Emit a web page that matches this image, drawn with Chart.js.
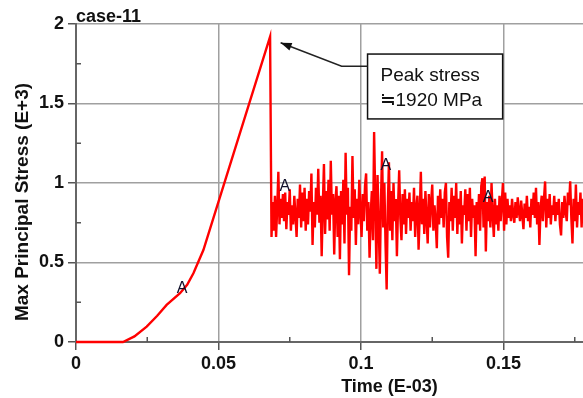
<!DOCTYPE html>
<html>
<head>
<meta charset="utf-8">
<script src="https://cdn.jsdelivr.net/npm/chart.js@4.4.0/dist/chart.umd.min.js"></script>
<style>
  html, body { margin: 0; padding: 0; background: #fff; overflow: hidden; }
  canvas { display: block; }
</style>
</head>
<body>
<canvas id="chart" width="710" height="398"></canvas>
<script>
// loading ramp up to the peak, then the drop
const riseTime = [0, 0.004, 0.008, 0.012, 0.0165, 0.0205, 0.0248, 0.0285, 0.0318, 0.0365, 0.0390, 0.0412, 0.0447, 0.0681, 0.0686];
const riseStress = [0, 0, 0, 0, 0, 0.035, 0.097, 0.165, 0.233, 0.307, 0.36, 0.432, 0.578, 1.92, 0.66];

// oscillation after the peak
const oscTime = [
  0.0690, 0.0694, 0.0698, 0.0702, 0.0706, 0.0710, 0.0714, 0.0718, 0.0722, 0.0726,
  0.0730, 0.0734, 0.0738, 0.0742, 0.0746, 0.0750, 0.0754, 0.0758, 0.0762, 0.0766,
  0.0770, 0.0774, 0.0778, 0.0782, 0.0786, 0.0790, 0.0794, 0.0798, 0.0802, 0.0806,
  0.0810, 0.0814, 0.0818, 0.0822, 0.0826, 0.0830, 0.0834, 0.0838, 0.0842, 0.0846,
  0.0850, 0.0854, 0.0858, 0.0862, 0.0866, 0.0870, 0.0874, 0.0878, 0.0882, 0.0886,
  0.0890, 0.0894, 0.0898, 0.0902, 0.0906, 0.0910, 0.0914, 0.0918, 0.0922, 0.0926,
  0.0930, 0.0934, 0.0938, 0.0942, 0.0946, 0.0950, 0.0954, 0.0958, 0.0962, 0.0966,
  0.0970, 0.0974, 0.0978, 0.0982, 0.0986, 0.0990, 0.0994, 0.0998, 0.1002, 0.1006,
  0.1010, 0.1014, 0.1018, 0.1022, 0.1026, 0.1030, 0.1034, 0.1038, 0.1042, 0.1046,
  0.1050, 0.1054, 0.1058, 0.1062, 0.1066, 0.1070, 0.1074, 0.1078, 0.1082, 0.1086,
  0.1090, 0.1094, 0.1098, 0.1102, 0.1106, 0.1110, 0.1114, 0.1118, 0.1122, 0.1126,
  0.1130, 0.1134, 0.1138, 0.1142, 0.1146, 0.1150, 0.1154, 0.1158, 0.1162, 0.1166,
  0.1170, 0.1174, 0.1178, 0.1182, 0.1186, 0.1190, 0.1194, 0.1198, 0.1202, 0.1206,
  0.1210, 0.1214, 0.1218, 0.1222, 0.1226, 0.1230, 0.1234, 0.1238, 0.1242, 0.1246,
  0.1250, 0.1254, 0.1258, 0.1262, 0.1266, 0.1270, 0.1274, 0.1278, 0.1282, 0.1286,
  0.1290, 0.1294, 0.1298, 0.1302, 0.1306, 0.1310, 0.1314, 0.1318, 0.1322, 0.1326,
  0.1330, 0.1334, 0.1338, 0.1342, 0.1346, 0.1350, 0.1354, 0.1358, 0.1362, 0.1366,
  0.1370, 0.1374, 0.1378, 0.1382, 0.1386, 0.1390, 0.1394, 0.1398, 0.1402, 0.1406,
  0.1410, 0.1414, 0.1418, 0.1422, 0.1426, 0.1430, 0.1434, 0.1438, 0.1442, 0.1446,
  0.1450, 0.1454, 0.1458, 0.1462, 0.1466, 0.1470, 0.1474, 0.1478, 0.1482, 0.1486,
  0.1490, 0.1494, 0.1498, 0.1502, 0.1506, 0.1510, 0.1514, 0.1518, 0.1522, 0.1526,
  0.1530, 0.1534, 0.1538, 0.1542, 0.1546, 0.1550, 0.1554, 0.1558, 0.1562, 0.1566,
  0.1570, 0.1574, 0.1578, 0.1582, 0.1586, 0.1590, 0.1594, 0.1598, 0.1602, 0.1606,
  0.1610, 0.1614, 0.1618, 0.1622, 0.1626, 0.1630, 0.1634, 0.1638, 0.1642, 0.1646,
  0.1650, 0.1654, 0.1658, 0.1662, 0.1666, 0.1670, 0.1674, 0.1678, 0.1682, 0.1686,
  0.1690, 0.1694, 0.1698, 0.1702, 0.1706, 0.1710, 0.1714, 0.1718, 0.1722, 0.1726,
  0.1730, 0.1734, 0.1738, 0.1742, 0.1746, 0.1750, 0.1754, 0.1758, 0.1762, 0.1766,
  0.1770, 0.1774, 0.1778, 0.1782, 0.1786, 0.1790
];
const oscStress = [
  0.88, 0.70, 0.92, 0.66, 0.84, 1.07, 0.74, 0.90, 0.78, 0.93,
  0.76, 0.94, 0.71, 0.88, 0.80, 0.96, 0.70, 0.86, 0.74, 0.92,
  0.80, 0.66, 0.90, 0.78, 0.99, 0.72, 0.94, 0.76, 0.97, 0.70,
  0.90, 0.74, 0.95, 0.82, 1.06, 0.61, 0.88, 0.72, 0.97, 0.80,
  1.09, 0.75, 0.92, 0.54, 0.86, 1.12, 0.68, 0.95, 0.77, 1.02,
  0.70, 1.14, 0.80, 0.93, 0.55, 0.88, 0.98, 0.66, 0.92, 0.52,
  0.95, 0.74, 1.02, 0.62, 1.19, 0.80, 0.97, 0.42, 0.85, 0.70,
  1.17, 0.78, 0.96, 0.61, 0.90, 0.74, 1.02, 0.82, 0.66, 0.93,
  0.76, 0.98, 1.06, 0.70, 0.88, 0.53, 0.80, 0.95, 0.64, 1.32,
  0.90, 0.46, 1.05, 0.75, 0.43, 0.88, 1.20, 0.72, 1.00, 0.62,
  0.33, 0.85, 1.13, 0.70, 0.95, 0.64, 1.00, 0.76, 0.90, 0.54,
  0.86, 1.08, 0.78, 0.64, 0.93, 0.74, 0.96, 0.68, 0.90, 0.78,
  0.94, 0.70, 0.88, 0.76, 0.97, 0.66, 0.84, 0.92, 0.58, 0.80,
  1.07, 0.74, 0.90, 0.68, 0.95, 0.78, 0.62, 0.93, 0.72, 0.88,
  0.99, 0.70, 0.86, 0.76, 0.59, 0.92, 0.74, 0.96, 0.78, 0.90,
  0.72, 0.94, 1.00, 0.66, 0.53, 0.88, 0.76, 0.97, 0.70, 0.92,
  0.78, 1.00, 0.68, 0.90, 0.74, 0.95, 0.62, 0.86, 0.80, 0.96,
  0.70, 0.93, 0.76, 0.97, 0.66, 0.90, 0.78, 0.86, 0.54, 0.88,
  0.74, 0.93, 0.70, 0.98, 1.03, 0.72, 1.04, 0.57, 0.88, 0.76,
  0.92, 0.72, 1.00, 0.80, 0.66, 0.90, 0.74, 0.86, 0.70, 0.92,
  0.76, 0.88, 1.00, 0.70, 0.94, 0.74, 0.90, 0.78, 0.86, 0.76,
  0.90, 0.80, 0.75, 0.88, 0.78, 0.91, 0.82, 0.76, 0.89, 0.80,
  0.71, 0.87, 0.78, 0.92, 0.76, 0.85, 0.72, 0.90, 0.80, 0.94,
  0.78, 0.97, 0.74, 0.88, 0.61, 0.84, 0.92, 0.76, 0.90, 1.01,
  0.72, 0.90, 0.78, 0.93, 0.74, 0.86, 0.80, 0.92, 0.76, 0.88,
  0.80, 0.90, 0.74, 0.67, 0.88, 0.78, 0.92, 0.82, 0.76, 0.94,
  0.86, 1.01, 0.78, 0.62, 0.90, 0.76, 0.99, 0.72, 0.88, 0.80,
  0.94, 0.72, 0.90, 0.78, 0.86, 0.80
];

// "A" curve markers
const markerTime = [0.0372, 0.0733, 0.1087, 0.1446];
const markerStress = [0.334, 0.977, 1.11, 0.91];

// minor tick positions
const xMinorTicks = [0.025, 0.075, 0.125, 0.175, 0.225];
const yMinorTicks = [0.25, 0.75, 1.25, 1.75];

const chartTitle = 'case-11';
const xTitle = 'Time (E-03)';
const yTitle = 'Max Principal Stress (E+3)';
const noteLines = ['Peak stress', '\u22521920 MPa'];

// annotation geometry in data units
const noteBox = { t0: 0.1023, t1: 0.1497, v0: 1.403, v1: 1.811 };
const noteArrow = { tipT: 0.0718, tipV: 1.882, elbowT: 0.0932, elbowV: 1.735 };

const family = '"Liberation Sans", Arial, sans-serif';

const time = riseTime.concat(oscTime);
const stress = riseStress.concat(oscStress);
const points = time.map((t, i) => ({ x: t, y: stress[i] }));

const decor = {
  id: 'decor',
  afterDraw(chart) {
    const { ctx, chartArea: a, scales: { x, y } } = chart;
    ctx.save();

    // minor ticks, pointing inward
    ctx.strokeStyle = '#555';
    ctx.lineWidth = 1.5;
    ctx.beginPath();
    xMinorTicks.forEach(v => {
      const px = x.getPixelForValue(v);
      ctx.moveTo(px, a.bottom);
      ctx.lineTo(px, a.bottom - 5);
    });
    yMinorTicks.forEach(v => {
      const py = y.getPixelForValue(v);
      ctx.moveTo(a.left, py);
      ctx.lineTo(a.left + 5, py);
    });
    ctx.stroke();

    // A markers
    ctx.fillStyle = '#10102a';
    ctx.font = '16px ' + family;
    ctx.textAlign = 'center';
    ctx.textBaseline = 'middle';
    markerTime.forEach((t, i) => {
      ctx.fillText('A', x.getPixelForValue(t), y.getPixelForValue(markerStress[i]));
    });

    // title
    ctx.fillStyle = '#111';
    ctx.font = 'bold 18px ' + family;
    ctx.textAlign = 'left';
    ctx.textBaseline = 'alphabetic';
    ctx.fillText(chartTitle, a.left, a.top - 2);

    // y title
    ctx.save();
    ctx.translate(a.left - 53, a.top + 178);
    ctx.rotate(-Math.PI / 2);
    ctx.textAlign = 'center';
    ctx.textBaseline = 'middle';
    ctx.font = 'bold 19px ' + family;
    ctx.fillText(yTitle, 0, 0);
    ctx.restore();

    // annotation box
    const bx0 = x.getPixelForValue(noteBox.t0), bx1 = x.getPixelForValue(noteBox.t1);
    const by0 = y.getPixelForValue(noteBox.v1), by1 = y.getPixelForValue(noteBox.v0);
    ctx.fillStyle = '#fff';
    ctx.fillRect(bx0, by0, bx1 - bx0, by1 - by0);
    ctx.strokeStyle = '#111';
    ctx.lineWidth = 1.5;
    ctx.strokeRect(bx0, by0, bx1 - bx0, by1 - by0);
    ctx.fillStyle = '#111';
    ctx.font = '19px ' + family;
    ctx.textAlign = 'left';
    ctx.fillText(noteLines[0], bx0 + 13, by0 + 27);
    ctx.fillText(noteLines[1], bx0 + 12, by0 + 52);

    // arrow
    const ex = x.getPixelForValue(noteArrow.elbowT), ey = y.getPixelForValue(noteArrow.elbowV);
    const tx = x.getPixelForValue(noteArrow.tipT), ty = y.getPixelForValue(noteArrow.tipV);
    ctx.strokeStyle = '#222';
    ctx.lineWidth = 1.5;
    ctx.beginPath();
    ctx.moveTo(bx0, ey);
    ctx.lineTo(ex, ey);
    ctx.lineTo(tx, ty);
    ctx.stroke();
    const ang = Math.atan2(ty - ey, tx - ex);
    ctx.fillStyle = '#111';
    ctx.beginPath();
    ctx.moveTo(tx, ty);
    ctx.lineTo(tx - 11 * Math.cos(ang) + 4 * Math.sin(ang), ty - 11 * Math.sin(ang) - 4 * Math.cos(ang));
    ctx.lineTo(tx - 11 * Math.cos(ang) - 4 * Math.sin(ang), ty - 11 * Math.sin(ang) + 4 * Math.cos(ang));
    ctx.closePath();
    ctx.fill();

    ctx.restore();
  }
};

const tickFont = { family: family, size: 18, weight: 'bold' };

let ctx = document.getElementById('chart').getContext('2d');
let myChart = new Chart(ctx, {
  type: 'line',
  data: {
    datasets: [{
      data: points,
      borderColor: '#ff0000',
      borderWidth: 2.4,
      pointRadius: 0,
      tension: 0,
      fill: false,
      clip: false
    }]
  },
  options: {
    responsive: false,
    animation: false,
    layout: { padding: { top: 24, right: 7, left: 0, bottom: 0 } },
    plugins: { legend: { display: false }, tooltip: { enabled: false } },
    scales: {
      x: {
        type: 'linear',
        min: 0,
        max: 0.22,
        ticks: {
          stepSize: 0.05,
          includeBounds: false,
          maxRotation: 0,
          autoSkip: false,
          padding: 3,
          color: '#111',
          font: tickFont,
          callback: v => String(+v.toFixed(3))
        },
        grid: { color: '#a0a0a0', lineWidth: 1.5, tickLength: 8, tickColor: '#555', tickWidth: 1.5 },
        border: { color: '#666', width: 2 },
        title: { display: true, text: xTitle, color: '#111', font: tickFont, padding: 0 },
        afterFit: s => { s.height = 56; }
      },
      y: {
        min: 0,
        max: 2,
        ticks: {
          stepSize: 0.5,
          padding: 4,
          color: '#111',
          font: tickFont,
          callback: v => String(+v.toFixed(2))
        },
        grid: { color: '#a0a0a0', lineWidth: 1.5, tickLength: 8, tickColor: '#555', tickWidth: 1.5 },
        border: { color: '#666', width: 2 },
        afterFit: s => { s.width = 76; }
      }
    }
  },
  plugins: [decor]
});
</script>
</body>
</html>
